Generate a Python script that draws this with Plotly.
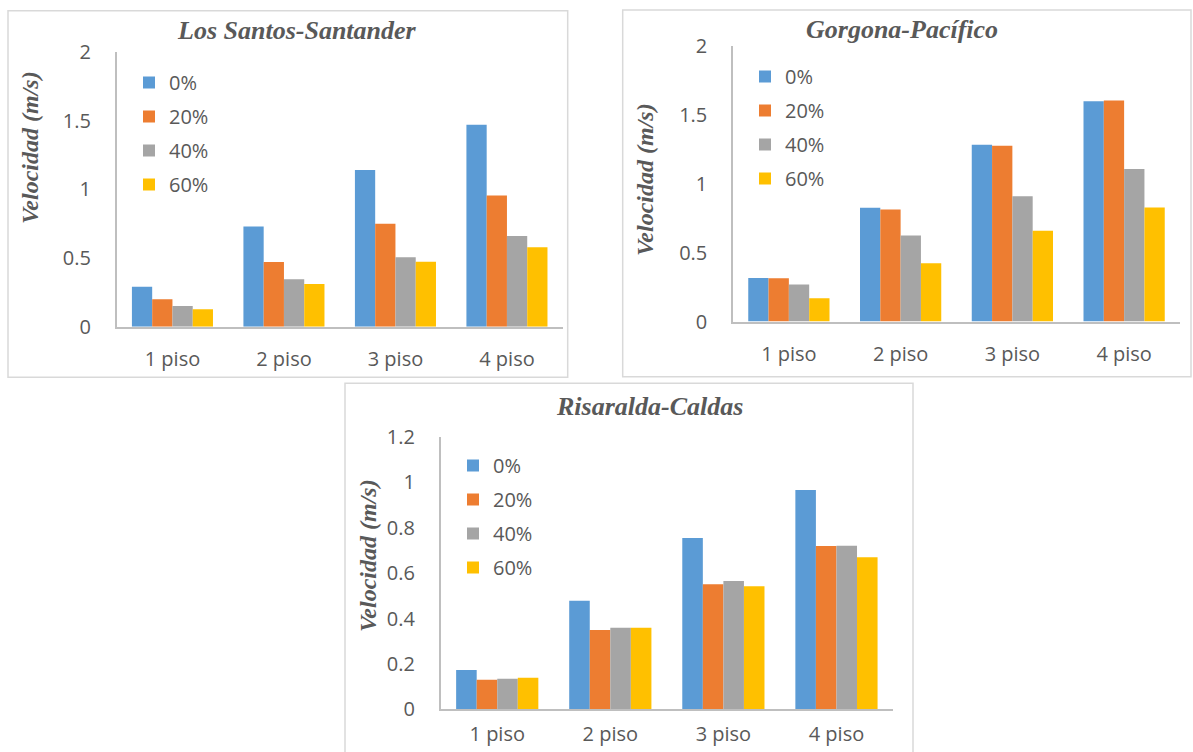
import plotly.graph_objects as go

# Categories and series
pisos = ["1 piso", "2 piso", "3 piso", "4 piso"]
series = ["0%", "20%", "40%", "60%"]
colors = ["#5B9BD5", "#ED7D31", "#A5A5A5", "#FFC000"]

# Velocidad (m/s) per piso, one list per series
santos_0 = [0.29, 0.73, 1.14, 1.47]
santos_20 = [0.20, 0.47, 0.75, 0.955]
santos_40 = [0.15, 0.345, 0.505, 0.66]
santos_60 = [0.127, 0.31, 0.473, 0.578]

gorgona_0 = [0.317, 0.826, 1.285, 1.60]
gorgona_20 = [0.315, 0.814, 1.278, 1.607]
gorgona_40 = [0.269, 0.625, 0.911, 1.109]
gorgona_60 = [0.169, 0.424, 0.659, 0.828]

risaralda_0 = [0.173, 0.478, 0.755, 0.966]
risaralda_20 = [0.130, 0.349, 0.551, 0.719]
risaralda_40 = [0.135, 0.359, 0.565, 0.721]
risaralda_60 = [0.139, 0.359, 0.542, 0.670]

W, H = 1193, 752
TEXT = "#595959"
SANS = "Open Sans"
SERIF = "Liberation Serif"


def px(x):
    return x / W


def py(y):
    return 1 - y / H


panels = [
    dict(title="Los Santos-Santander", data=[santos_0, santos_20, santos_40, santos_60],
         xdom=(116.7, 562.7), ydom=(326.7, 51.9), yrange=[0, 2], dtick=0.5,
         title_xy=(297, 31), ytitle_xy=(30, 148), frame=(8, 10.7, 567.7, 377.3),
         legend_xy=(129, 63), xstandoff=14),
    dict(title="Gorgona-Pacífico", data=[gorgona_0, gorgona_20, gorgona_40, gorgona_60],
         xdom=(733, 1180), ydom=(321.5, 46.3), yrange=[0, 2], dtick=0.5,
         title_xy=(902, 30), ytitle_xy=(645, 180), frame=(622.7, 10, 1191, 376.7),
         legend_xy=(745, 57), xstandoff=14),
    dict(title="Risaralda-Caldas", data=[risaralda_0, risaralda_20, risaralda_40, risaralda_60],
         xdom=(440.7, 893), ydom=(709.3, 436.9), yrange=[0, 1.2], dtick=0.2,
         title_xy=(650, 406), ytitle_xy=(368, 556), frame=(345, 383.3, 913, 760),
         legend_xy=(453, 446), xstandoff=6),
]

fig = go.Figure()
layout = {}
annotations = []
shapes = []

for i, p in enumerate(panels):
    n = "" if i == 0 else str(i + 1)
    xa, ya = "x" + n, "y" + n
    leg = "legend" + n
    for s, vals, col in zip(series, p["data"], colors):
        fig.add_trace(go.Bar(
            x=pisos, y=vals, name=s, marker=dict(color=col, line=dict(width=0)),
            xaxis=xa, yaxis=ya, legend=leg, legendgroup=f"{leg}-{s}",
        ))

    layout["xaxis" + n] = dict(
        domain=[px(p["xdom"][0]), px(p["xdom"][1])], anchor=ya, automargin=False,
        showline=True, linecolor="#BFBFBF", linewidth=1.5, ticks="",
        showgrid=False, zeroline=False, fixedrange=True,
        tickfont=dict(family=SANS, size=20, color=TEXT), ticklabelstandoff=p["xstandoff"],
    )
    layout["yaxis" + n] = dict(
        domain=[py(p["ydom"][0]), py(p["ydom"][1])], anchor=xa, automargin=False,
        range=p["yrange"], dtick=p["dtick"], tick0=0,
        showline=True, linecolor="#BFBFBF", linewidth=1.5, ticks="",
        showgrid=False, zeroline=False, fixedrange=True,
        tickfont=dict(family=SANS, size=20, color=TEXT), ticklabelstandoff=20,
    )
    layout[leg] = dict(
        x=px(p["legend_xy"][0]), y=py(p["legend_xy"][1]),
        xanchor="left", yanchor="top", bgcolor="rgba(0,0,0,0)",
        font=dict(family=SANS, size=20, color=TEXT),
        tracegroupgap=5, traceorder="grouped", itemwidth=30,
    )

    annotations.append(dict(
        text=p["title"], x=px(p["title_xy"][0]), y=py(p["title_xy"][1]),
        xref="paper", yref="paper", xanchor="center", yanchor="middle", showarrow=False,
        font=dict(family=SERIF, size=26, color=TEXT, weight="bold", style="italic"),
    ))
    annotations.append(dict(
        text="Velocidad (m/s)", x=px(p["ytitle_xy"][0]), y=py(p["ytitle_xy"][1]),
        xref="paper", yref="paper", xanchor="center", yanchor="middle", showarrow=False,
        textangle=-90,
        font=dict(family=SERIF, size=24, color=TEXT, weight="bold", style="italic"),
    ))
    x0, y0, x1, y1 = p["frame"]
    shapes.append(dict(
        type="rect", xref="paper", yref="paper",
        x0=px(x0), x1=px(x1), y0=py(y1), y1=py(y0),
        line=dict(color="#D9D9D9", width=1.5), fillcolor="rgba(0,0,0,0)", layer="below",
    ))

fig.update_layout(
    template="none",
    width=W, height=H, margin=dict(l=0, r=0, t=0, b=0, autoexpand=False),
    paper_bgcolor="white", plot_bgcolor="rgba(0,0,0,0)",
    barmode="group", bargap=0.273, bargroupgap=0,
    annotations=annotations, shapes=shapes, **layout,
)

fig.write_html("out.html")
